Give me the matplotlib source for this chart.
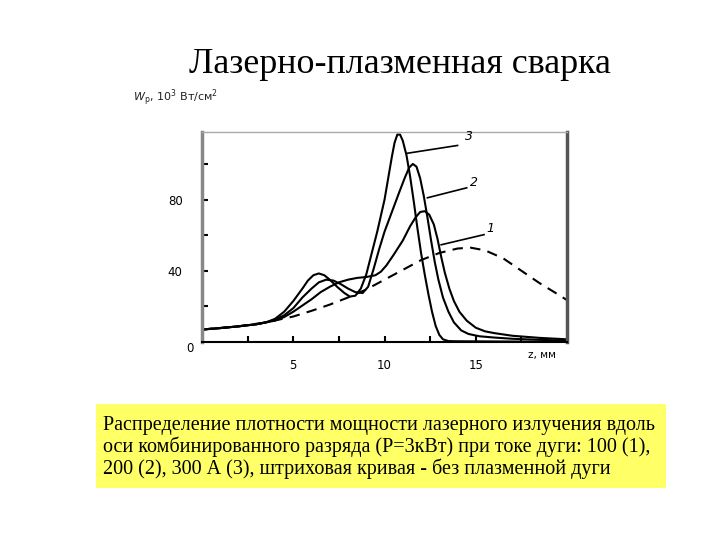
import matplotlib.pyplot as plt
from matplotlib.patches import Rectangle

# Распределение плотности мощности вдоль оси разряда
z1 = [0, 1, 2, 3, 3.5, 4, 4.5, 5, 5.5, 6, 6.5, 7, 7.5, 8, 8.5, 9, 9.5, 9.8, 10.1, 10.5, 11,
      11.4, 11.7, 11.95, 12.2, 12.45, 12.7, 12.9, 13.1, 13.3, 13.55, 13.8, 14.1, 14.5, 15,
      15.5, 16, 17, 18.5, 20]
w1 = [7, 7.8, 8.8, 10, 11, 12, 14, 17, 20.5, 24, 28, 31, 33.5, 35, 36, 36.5, 37.5, 39.5, 43, 49, 57,
      65, 70, 73, 73.5, 71.5, 66, 58, 48, 39, 30, 23, 17, 12, 8,
      6, 5, 3.5, 2.3, 1.5]

z2 = [0, 1, 2, 3, 3.5, 4, 4.5, 5, 5.5, 6, 6.4, 6.8, 7.2, 7.6, 8.0, 8.4, 8.8, 9.1, 9.4, 9.7,
      10.0, 10.4, 10.8, 11.1, 11.35, 11.55, 11.75, 11.95, 12.15, 12.35, 12.55, 12.75, 12.95,
      13.2, 13.5, 13.8, 14.2, 14.6, 15.2, 16, 17, 18.5, 20]
w2 = [7, 7.8, 8.8, 10, 11, 12.5, 15, 19, 25, 30, 33.5, 35, 34.5, 32.5, 30, 28, 27.5, 31, 41, 52,
      62, 73, 84, 92, 98, 100, 98.5, 92, 82, 70, 57, 45, 35,
      25, 17, 11, 6.5, 4.5, 3.2, 2.5, 1.8, 1.2, 0.8]

z3 = [0, 1, 2, 3, 3.5, 4, 4.5, 5, 5.5, 5.8, 6.1, 6.4, 6.7, 7.0, 7.4, 7.8, 8.1, 8.4, 8.7, 9.0,
      9.3, 9.6, 9.8, 10.0, 10.2, 10.4, 10.55, 10.7, 10.85, 11.0, 11.2, 11.4, 11.6, 11.8, 12.0,
      12.2, 12.4, 12.6, 12.8, 13.0, 13.2, 13.5, 14, 16, 18, 20]
w3 = [7, 7.8, 8.8, 10, 11, 13, 17, 23, 30, 34.5, 37.5, 38.5, 37.5, 35, 31, 27.5, 25.5, 26, 30, 38,
      50, 62, 71, 80, 92, 104, 112, 116.5, 116.5, 113, 105, 93, 79, 64, 50,
      38, 27, 17, 9, 4, 1.5, 0.5, 0.4, 0.3, 0.2, 0.2]

z0 = [0, 2, 3.5, 5, 6, 7, 8, 9, 10, 11, 12, 13, 14, 14.7, 15.5, 16.5, 17.5, 18.5, 19.3, 20]
w0 = [7, 8.8, 11, 14.3, 17.5, 21, 25, 29.5, 35, 40.5, 46, 50, 52.5, 53, 51.5, 47, 40, 33, 28, 23.5]

# подписи кривых: (номер, начало выноски, конец выноски, место текста)
labels = [('3', (11.24, 106), (14.0, 110.4), (14.6, 115.5)),
          ('2', (12.35, 81), (14.5, 86.6), (14.9, 89.6)),
          ('1', (13.1, 54.6), (15.45, 60.3), (15.8, 64))]

fig = plt.figure(figsize=(7.2, 5.4), dpi=100)
fig.patch.set_facecolor('white')

fig.text(0.556, 0.88, 'Лазерно-плазменная сварка', ha='center', va='center',
         fontsize=25.8, family='Liberation Serif')
fig.text(0.185, 0.82, r'$W_\mathregular{p}$, 10$^\mathregular{3}$ Вт/см$^\mathregular{2}$',
         ha='left', va='center', fontsize=8, family='DejaVu Sans', color='#222222')

ax = fig.add_axes([0.2806, 0.3667, 0.507, 0.389])
ax.plot(z1, w1, color='black', lw=1.5)
ax.plot(z2, w2, color='black', lw=1.5)
ax.plot(z3, w3, color='black', lw=1.5)
ax.plot(z0, w0, color='black', lw=1.5, ls=(0, (5, 3.5)))

for txt, p0, p1, pt in labels:
    ax.plot([p0[0], p1[0]], [p0[1], p1[1]], color='black', lw=1.2)
    ax.text(pt[0], pt[1], txt, fontsize=9, style='italic', ha='center', va='center')

ax.set_xlim(0, 20)
ax.set_ylim(0, 118)
ax.set_xticks([2.5, 5, 7.5, 10, 12.5, 15, 17.5])
ax.set_xticklabels(['', '5', '', '10', '', '15', ''])
ax.set_yticks([20, 40, 60, 80, 100])
ax.set_yticklabels(['', '40', '', '80', ''])
ax.tick_params(direction='in', length=4, width=1.5, labelsize=8.5, pad=12)
ax.tick_params(axis='y', pad=14)
ax.text(-0.033, -0.03, '0', transform=ax.transAxes, ha='center', va='center', fontsize=8.5)
ax.text(18.6, -7.5, 'z, мм', ha='center', va='center', fontsize=7.5)

ax.spines['left'].set_color('#888888')
ax.spines['left'].set_linewidth(2.5)
ax.spines['right'].set_color('#555555')
ax.spines['right'].set_linewidth(2.5)
ax.spines['top'].set_color('#aaaaaa')
ax.spines['top'].set_linewidth(1)
ax.spines['bottom'].set_color('black')
ax.spines['bottom'].set_linewidth(1.5)

fig.patches.append(Rectangle((0.1333, 0.0963), 0.792, 0.155, transform=fig.transFigure,
                             facecolor='#ffff66', edgecolor='none', zorder=0))
fig.text(0.143, 0.172,
         'Распределение плотности мощности лазерного излучения вдоль\n'
         'оси комбинированного разряда (Р=3кВт) при токе дуги: 100 (1),\n'
         '200 (2), 300 А (3), штриховая кривая - без плазменной дуги',
         ha='left', va='center', fontsize=14.5, family='Liberation Serif', linespacing=1.1)

plt.savefig('out.png', dpi=100)
